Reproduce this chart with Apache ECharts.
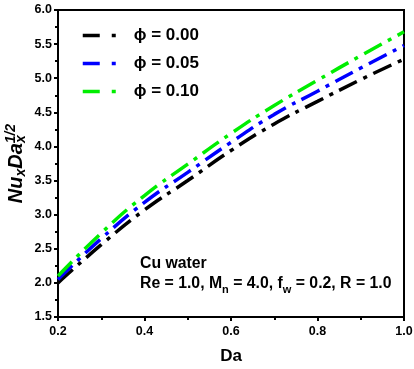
<!DOCTYPE html>
<html>
<head>
<meta charset="utf-8">
<script src="https://cdn.jsdelivr.net/npm/echarts@6/dist/echarts.min.js"></script>
<style>
  html, body { margin: 0; padding: 0; background: #fff; }
  #chart { width: 414px; height: 369px; }
</style>
</head>
<body>
<div id="chart"></div>
<script>
// Da values along x axis
var daValues = [0.2, 0.3, 0.4, 0.5, 0.6, 0.7, 0.8, 0.9, 1.0];
// Nu_x Da_x^(1/2) for each phi
var phi000 = [2.00, 2.56, 3.07, 3.50, 3.94, 4.33, 4.66, 4.98, 5.28];
var phi005 = [2.05, 2.65, 3.18, 3.62, 4.06, 4.47, 4.81, 5.15, 5.48];
var phi010 = [2.10, 2.73, 3.28, 3.74, 4.19, 4.60, 4.97, 5.33, 5.68];
var seriesNames = ['ϕ = 0.00', 'ϕ = 0.05', 'ϕ = 0.10'];
var seriesColors = ['#000000', '#0000ff', '#00ee00'];

var font = 'Liberation Sans, Arial, sans-serif';
var myChart = echarts.init(document.getElementById('chart'));

function pairs(ys) {
  return daValues.map(function (x, i) { return [x, ys[i]]; });
}

var allData = [phi000, phi005, phi010];
var series = allData.map(function (ys, i) {
  return {
    name: seriesNames[i],
    type: 'line',
    smooth: true,
    showSymbol: false,
    symbol: 'none',
    data: pairs(ys),
    lineStyle: {
      color: seriesColors[i],
      width: 3.5,
      type: [20, 7, 4, 7] // dash dot
    },
    itemStyle: {color: seriesColors[i]}
  };
});

myChart.setOption({
  backgroundColor: '#fff',
  animation: false,
  grid: {
    left: 58, right: 10, top: 10, bottom: 52,
    outerBoundsMode: 'none',
    containLabel: false,
    show: true,
    borderColor: '#000',
    borderWidth: 2
  },
  legend: {
    left: 76, top: 22,
    orient: 'vertical',
    itemWidth: 38,
    itemHeight: 14,
    itemGap: 11,
    data: seriesNames,
    itemStyle: {opacity: 0},
    lineStyle: {width: 3.5, type: [17, 12, 4, 12]},
    textStyle: {fontFamily: font, fontSize: 17, fontWeight: 'bold', color: '#000', padding: [0, 0, 0, 8], lineHeight: 14}
  },
  xAxis: {
    type: 'value',
    min: 0.2, max: 1.0, interval: 0.2,
    name: 'Da',
    nameLocation: 'middle',
    nameGap: 31,
    nameMoveOverlap: false,
    nameTextStyle: {fontFamily: font, fontSize: 17, fontWeight: 'bold', color: '#000'},
    axisLine: {lineStyle: {color: '#000', width: 2}},
    axisTick: {inside: false, length: 4, lineStyle: {color: '#000', width: 2}},
    minorTick: {show: true, splitNumber: 2, length: 3, lineStyle: {color: '#000', width: 2}},
    splitLine: {show: false},
    axisLabel: {
      fontFamily: font, fontSize: 12.5, fontWeight: 'bold', color: '#000', margin: 8,
      formatter: function (v) { return v.toFixed(1); }
    }
  },
  yAxis: {
    type: 'value',
    min: 1.5, max: 6.0, interval: 0.5,
    name: '{b|Nu}{s|x}{b|Da}{s|x}{p|1/2}',
    nameLocation: 'middle',
    nameRotate: 90,
    nameGap: 27,
    nameMoveOverlap: false,
    nameTextStyle: {
      rich: {
        b: {fontFamily: font, fontSize: 20, fontWeight: 'bold', fontStyle: 'italic', color: '#000', lineHeight: 30, verticalAlign: 'middle'},
        s: {fontFamily: font, fontSize: 14, fontWeight: 'bold', fontStyle: 'italic', color: '#000', lineHeight: 14, verticalAlign: 'bottom', padding: [0, 0, 3, 0]},
        p: {fontFamily: font, fontSize: 14, fontWeight: 'bold', fontStyle: 'italic', color: '#000', lineHeight: 14, verticalAlign: 'top', padding: [3, 0, 0, -8]}
      }
    },
    axisLine: {lineStyle: {color: '#000', width: 2}},
    axisTick: {inside: false, length: 4, lineStyle: {color: '#000', width: 2}},
    minorTick: {show: true, splitNumber: 2, length: 3, lineStyle: {color: '#000', width: 2}},
    splitLine: {show: false},
    axisLabel: {
      fontFamily: font, fontSize: 12.5, fontWeight: 'bold', color: '#000', margin: 6,
      formatter: function (v) { return v.toFixed(1); }
    }
  },
  graphic: [
    {
      type: 'text', left: 140, top: 256,
      style: {
        text: 'Cu water',
        font: 'bold 15.8px ' + font,
        fill: '#000'
      }
    },
    {
      type: 'text', left: 140, top: 276,
      style: {
        text: '{t|Re = 1.0, M}{s|n}{t| = 4.0, f}{s|w}{t| = 0.2, R = 1.0}',
        rich: {
          t: {fontFamily: font, fontSize: 15.8, fontWeight: 'bold', fill: '#000', lineHeight: 22, verticalAlign: 'middle'},
          s: {fontFamily: font, fontSize: 11, fontWeight: 'bold', fill: '#000', lineHeight: 10, verticalAlign: 'bottom'}
        }
      }
    }
  ],
  series: series
});
</script>
</body>
</html>
